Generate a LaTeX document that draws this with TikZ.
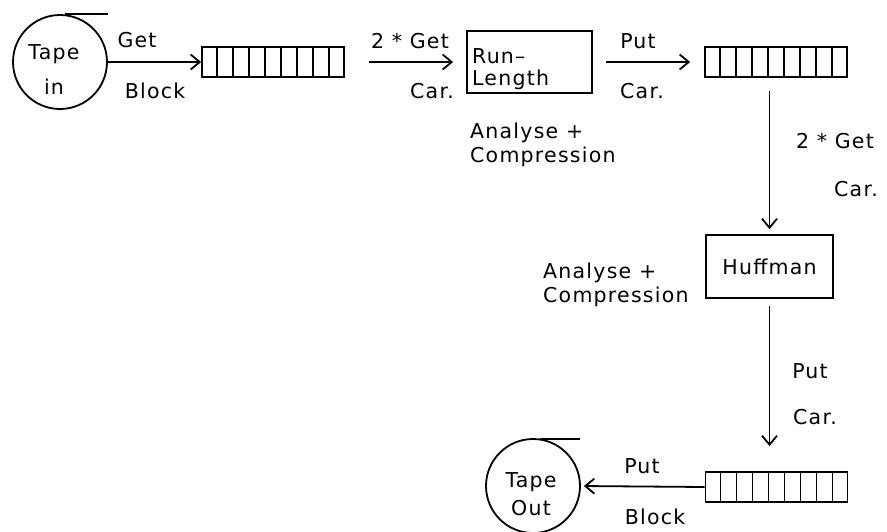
\documentclass[tikz,border=0pt]{standalone}
\usepackage{fontspec}
\setmainfont{DejaVu Sans}[LetterSpace=6]
\usetikzlibrary{arrows.meta,calc}
\tikzset{
  lw/.style={line width=1.8pt},
  arr/.style={lw,-{Straight Barb[length=9pt,width=15pt,line width=1.8pt]}},
  buf/.style={draw,lw,minimum width=142pt,minimum height=30pt,inner sep=0pt},
  proc/.style={draw,lw,inner sep=0pt},
  tape/.style={draw,lw,circle,minimum size=94pt,inner sep=0pt},
  lbl/.style={font=\fontsize{20.5}{24}\selectfont,inner sep=0pt},
  lbll/.style={lbl,anchor=west,align=left},
}
\begin{document}
\begin{tikzpicture}[x=1pt,y=-1pt]
\useasboundingbox (0,0) rectangle (887,531);
% nodes
\node[tape] (tin) at (60,62) {};
\node[buf] (b1) at (273,62) {};
\node[proc,minimum width=125pt,minimum height=62pt] (rl) at (529.5,62) {};
\node[buf] (b2) at (776,62) {};
\node[proc,minimum width=127pt,minimum height=63pt] (hf) at (769.5,266.5) {};
\node[buf] (b3) at (776.5,487) {};
\node[tape] (tout) at (533,486) {};
% buffer cells
\foreach \b in {b1,b2,b3}{
  \foreach \i in {1,...,8}{
    \draw[lw] ($(\b.north west)!\i/9!(\b.north east)$) -- ($(\b.south west)!\i/9!(\b.south east)$);
  }
}
% tape top lines
\draw[lw] ([xshift=5pt]tin.north) -- ++(43,0);
\draw[lw] ([xshift=7pt,yshift=-1pt]tout.north) -- ++(40,0);
% texts
\node[lbl,align=center] (tint) at (54,70) {Tape\\[11pt]in};
\node[lbl,align=center] (toutt) at (531,494) {Tape\\[4pt]Out};
\node[lbl] (g1) at (137,40) {Get};
\node[lbl] (bl1) at (155,91) {Block};
\node[lbl] (g2) at (410,41) {2 * Get};
\node[lbl] (c2) at (432,91) {Car.};
\node[lbl,anchor=west] (rlt1) at (472,56) {Run–};
\node[lbl,anchor=west] (rlt2) at (472,80) {Length};
\node[lbl] (p3) at (638,41) {Put};
\node[lbl] (c3) at (642,91) {Car.};
\node[lbll] (an1) at (470,133) {Analyse +};
\node[lbll] (an1b) at (470,157) {Compression};
\node[lbl] (g4) at (835,141) {2 * Get};
\node[lbl] (c4) at (856,189) {Car.};
\node[lbl] (hft) at (hf) {Huffman};
\node[lbll] (an2) at (543,273) {Analyse +};
\node[lbll] (an2b) at (543,297) {Compression};
\node[lbl] (p5) at (810,371) {Put};
\node[lbl] (c5) at (815,417) {Car.};
\node[lbl] (p6) at (642,466) {Put};
\node[lbl] (bl6) at (655,517) {Block};
% connectors
\draw[arr] (tin.east) -- (b1.west);
\draw[arr,shorten <=24pt,shorten >=13pt] (b1.east) -- (rl.west);
\draw[arr,shorten <=13pt,shorten >=14pt] (rl.east) -- (b2.west);
\draw[arr,shorten <=13pt,shorten >=5pt] (b2.south -| hf.north) -- (hf.north);
\draw[arr,shorten <=7pt,shorten >=25pt] (hf.south) -- (b3.north -| hf.south);
\draw[arr,shorten >=3pt] (b3.west) -- (tout.east);
\end{tikzpicture}
\end{document}
